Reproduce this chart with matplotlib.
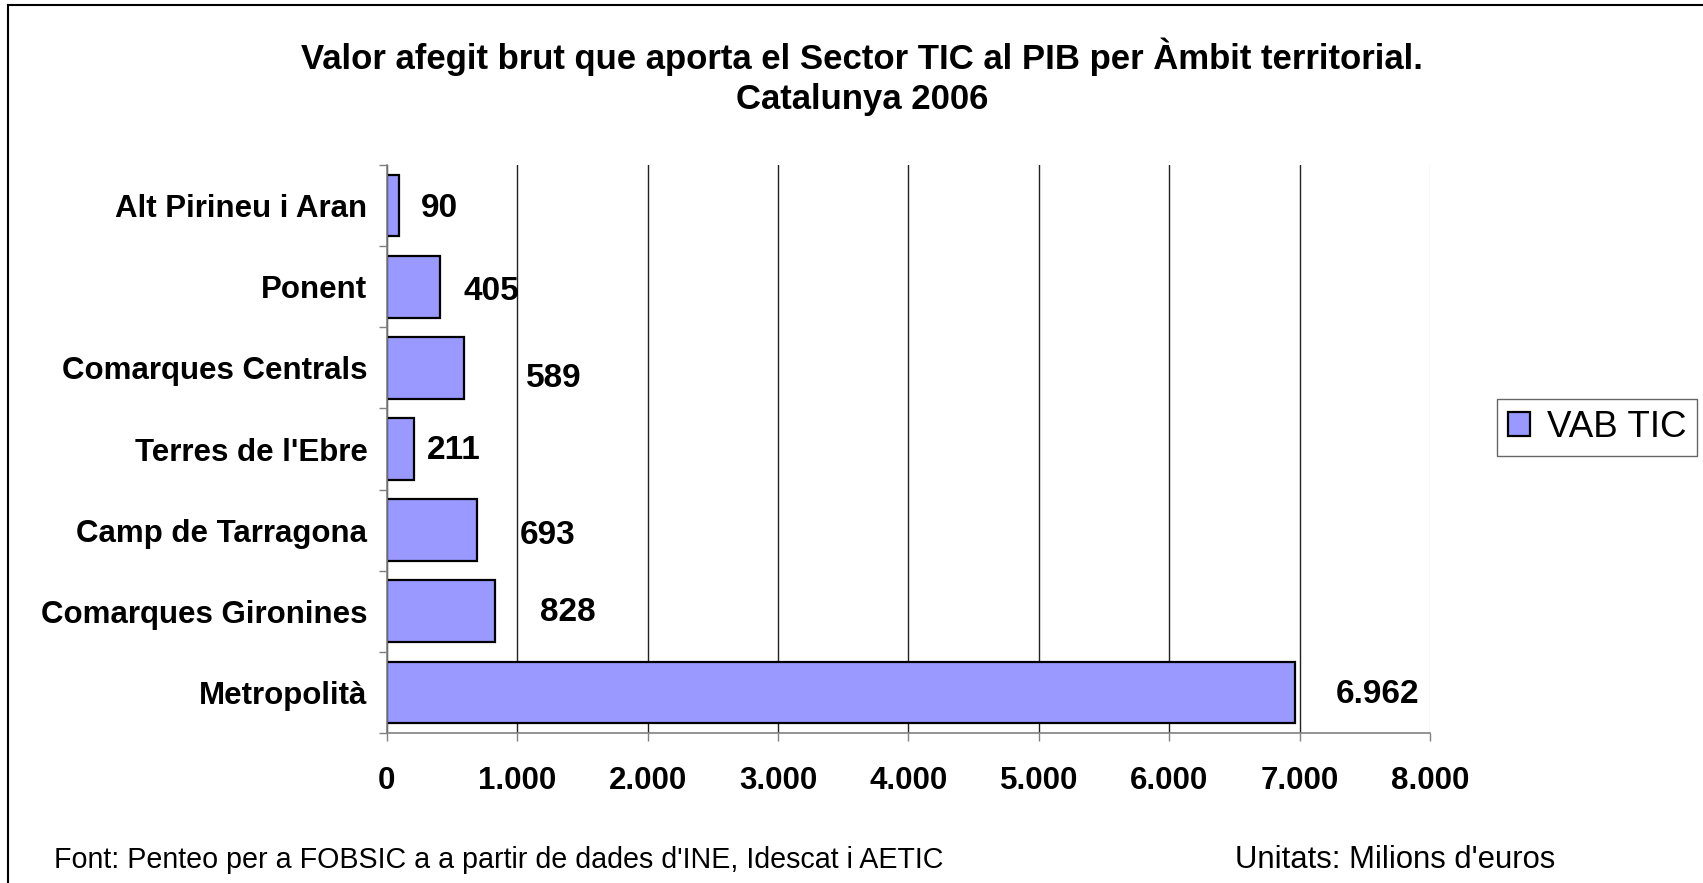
import numpy as np
import matplotlib
matplotlib.use("Agg")
import matplotlib.pyplot as plt
from matplotlib.lines import Line2D

plt.rcParams['font.family'] = ['Liberation Sans', 'DejaVu Sans']

# data (top to bottom)
ambits = ['Alt Pirineu i Aran', 'Ponent', 'Comarques Centrals', "Terres de l'Ebre",
          'Camp de Tarragona', 'Comarques Gironines', 'Metropolità']
vab_tic = [90, 405, 589, 211, 693, 828, 6962]
x_ticks = [0, 1000, 2000, 3000, 4000, 5000, 6000, 7000, 8000]

# label nudges in pixels (as they sit in the original)
lab_dx = [22, 24, 62, 12, 42, 45, 41]
lab_dy = [-3, -5, -11, -1, -5, -1, -2]


def fmt(v):
    return '{:,}'.format(v).replace(',', '.')


fig = plt.figure(figsize=(17.03, 8.83), dpi=100)
ax = fig.add_axes([0.2272, 0.1699, 0.8397 - 0.2272, 0.8131 - 0.1699])

y = np.arange(len(ambits))
bars = ax.barh(y, vab_tic, height=0.76, color='#9999ff', edgecolor='black',
               linewidth=1.6, label='VAB TIC', zorder=3)

ax.set_ylim(len(ambits) - 0.5, -0.5)
ax.set_xlim(0, 8000)

# category labels at bar centres, tick marks at the category boundaries
ax.set_yticks(y, ambits)
ax.tick_params(axis='y', which='major', length=0, pad=14, labelsize=22.5)
for t in ax.get_yticklabels():
    t.set_fontweight('bold')
ax.set_yticks(np.arange(len(ambits) + 1) - 0.5, minor=True)
ax.tick_params(axis='y', which='minor', length=6, width=1, color='#808080', direction='out')

ax.set_xticks(x_ticks, [fmt(v) for v in x_ticks])
ax.tick_params(axis='x', length=6, width=1, color='#808080', pad=18, labelsize=22.5)
for t in ax.get_xticklabels():
    t.set_fontweight('bold')

ax.grid(axis='x', color='#222222', linewidth=1)
ax.xaxis.get_gridlines()[-1].set_color('#dddddd')
ax.set_axisbelow(True)

for s in ['top', 'right']:
    ax.spines[s].set_visible(False)
for s in ['left', 'bottom']:
    ax.spines[s].set_color('#808080')
    ax.spines[s].set_linewidth(1.2)
    ax.spines[s].set_zorder(4)

for b, v, dx, dy in zip(bars, vab_tic, lab_dx, lab_dy):
    ax.annotate(fmt(v), (b.get_width(), b.get_y() + b.get_height() / 2),
                xytext=(dx, dy), textcoords='offset pixels',
                ha='left', va='center', fontsize=24, fontweight='bold')

fig.text(0.506, 0.936, 'Valor afegit brut que aporta el Sector TIC al PIB per Àmbit territorial.',
         ha='center', va='center', fontsize=25, fontweight='bold')
fig.text(0.506, 0.887, 'Catalunya 2006', ha='center', va='center', fontsize=25, fontweight='bold')

leg = fig.legend(handles=[bars], labels=['VAB TIC'], loc='center left',
                 bbox_to_anchor=(0.879, 0.516), fontsize=26.5, frameon=True, fancybox=False,
                 handlelength=0.6, handleheight=0.6, handletextpad=0.45,
                 borderpad=0.3, borderaxespad=0)
leg.get_frame().set_edgecolor('#404040')
leg.get_frame().set_linewidth(1)

fig.text(54 / 1703, 1 - 860 / 883, "Font: Penteo per a FOBSIC a a partir de dades d'INE, Idescat i AETIC",
         ha='left', va='center', fontsize=20.6)
fig.text(1235 / 1703, 1 - 860 / 883, "Unitats: Milions d'euros",
         ha='left', va='center', fontsize=22.3)

# chart border (left and top edges visible in the original)
fig.add_artist(Line2D([8 / 1703, 8 / 1703], [0, 1 - 5 / 883], color='black', lw=1.5))
fig.add_artist(Line2D([8 / 1703, 1], [1 - 5 / 883, 1 - 5 / 883], color='black', lw=1.5))

fig.savefig('out.png', dpi=100)
